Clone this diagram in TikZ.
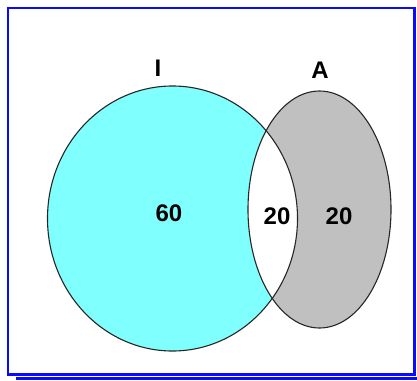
\documentclass[tikz,border=0pt]{standalone}
\usepackage{fontspec}
\setmainfont{Liberation Sans}
\definecolor{cyanfill}{HTML}{80FFFF}
\definecolor{grayfill}{HTML}{C0C0C0}
\definecolor{framecol}{HTML}{0A0AFF}
\begin{document}
\begin{tikzpicture}[x=1pt,y=-1pt,
  setline/.style={draw=black!85,line width=1.1pt},
  lbl/.style={font=\fontsize{24}{24}\selectfont\bfseries,inner sep=0pt}]
\useasboundingbox (0,0) rectangle (417,380);
% frame
\draw[framecol,line width=2.6pt] (8,8) rectangle (414.5,374.5);
\coordinate (s1) at (16,378.5);
\coordinate (s2) at (417,378.5);
\draw[framecol,line width=2.2pt] (s1) -- (s2);
% fills
\fill[cyanfill] (172.5,218.5) ellipse [x radius=125, y radius=132.5];
\fill[grayfill] (319.5,209.5) ellipse [x radius=71.5, y radius=118.5];
\begin{scope}
  \clip (172.5,218.5) ellipse [x radius=125, y radius=132.5];
  \fill[white] (319.5,209.5) ellipse [x radius=71.5, y radius=118.5];
\end{scope}
% outlines
\draw[setline] (172.5,218.5) ellipse [x radius=125, y radius=132.5];
\draw[setline] (319.5,209.5) ellipse [x radius=71.5, y radius=118.5];
% labels
\node[lbl] (lI) at (158,68) {I};
\node[lbl] (lA) at (320,70) {A};
\node[lbl] (n60) at (169,213) {60};
\node[lbl] (n20a) at (277,216) {20};
\node[lbl] (n20b) at (339,216) {20};
\end{tikzpicture}
\end{document}
